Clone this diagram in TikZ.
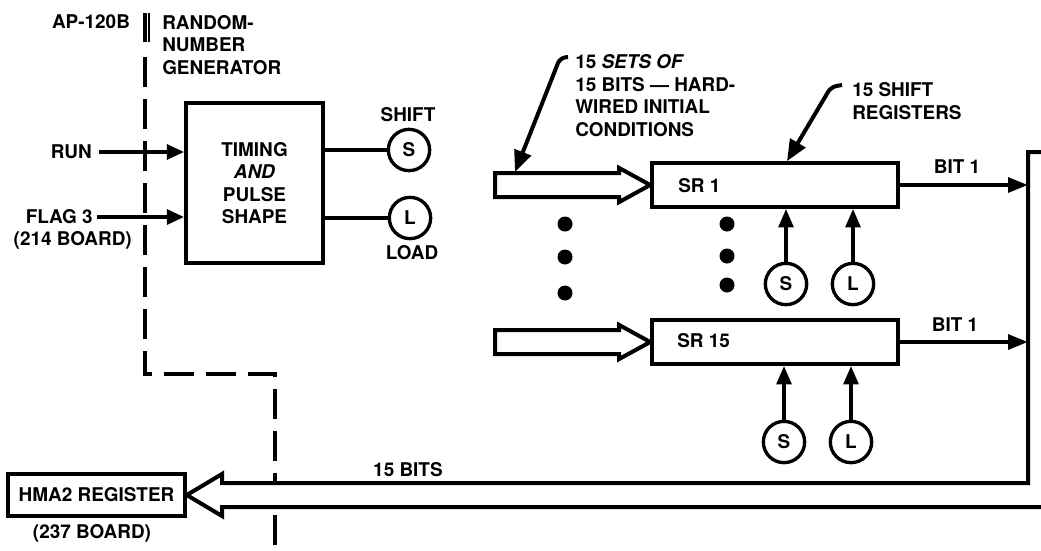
\documentclass[tikz,border=0pt]{standalone}
\usepackage{fontspec}
\setmainfont{TeX Gyre Heros}
\usetikzlibrary{arrows.meta,calc}
\newcommand{\lblfont}{\fontsize{14.2}{16.9}\selectfont\bfseries}
\begin{document}
\begin{tikzpicture}[x=0.75pt,y=-0.75pt,
  txt/.style={font=\lblfont, inner sep=0pt, align=left},
  box/.style={draw, line width=2.7pt, inner sep=0pt, font=\lblfont, align=center},
  circ/.style={circle, draw, line width=2.5pt, minimum size=31pt, inner sep=0pt, font=\lblfont},
  ln/.style={line width=3pt},
  arr/.style={ln, -{Triangle[length=13pt,width=11pt]}},
  uparr/.style={ln, -{Triangle[length=14pt,width=11pt]}},
  bitarr/.style={ln, -{Triangle[length=15pt,width=11pt]}},
  lead/.style={ln, rounded corners=4pt, -{Triangle[length=16pt,width=13pt]}},
  hollow/.style={ln, line join=miter, fill=white},
  dotmark/.style={fill=black}
]
\useasboundingbox[fill=white] (0,0) rectangle (1041,550);

% board boundary (dashed)
\draw[ln] (145,13) -- (145,42);
\draw[line width=0.8pt] (149,13) -- (149,42);
\draw[ln, dash pattern=on 22.5pt off 9pt] (145,57) -- (145,374) -- (275,374) -- (275,550);

% left labels
\node[txt] (ap) at (91,22) {AP-120B};
\node[txt, anchor=west] (rng) at (162,45) {RANDOM-\\NUMBER\\GENERATOR};

% timing block
\node[box, minimum width=102.75pt, minimum height=120pt] (tim) at (254.5,183)
  {TIMING\\\textit{AND}\\PULSE\\SHAPE};
\node[txt, anchor=east] (run) at (92,152) {RUN};
\node[txt, anchor=east] (flag) at (93,217) {FLAG 3};
\node[txt, anchor=east] (b214) at (132,240) {(214 BOARD)};
\draw[arr, shorten <=5pt] (run.east) -- (run.east -| tim.west);
\draw[arr, shorten <=3pt] (flag.east) -- (flag.east -| tim.west);

\node[circ] (s0) at (409,150) {S};
\node[circ] (l0) at (410,218) {L};
\draw[ln] (s0 -| tim.east) -- (s0);
\draw[ln] (l0 -| tim.east) -- (l0);
\node[txt] (shift) at (408,115) {SHIFT};
\node[txt] (load) at (412,253) {LOAD};

% shift registers
\node[box, minimum width=184.5pt, minimum height=33pt] (sr1) at (775,185) {};
\node[txt, anchor=west] (sr1t) at (678,186) {SR 1};
\node[box, minimum width=184.5pt, minimum height=33pt] (sr15) at (775,342) {};
\node[txt, anchor=west] (sr15t) at (677,341) {SR 15};

% hollow input arrows
\draw[hollow] (sr1.west) -- ++(-31,-17) -- ++(0,5) -- ++(-124,0) -- ++(0,24)
  -- ++(124,0) -- ++(0,5) -- cycle;
\draw[hollow] (sr15.west) -- ++(-31,-17) -- ++(0,5) -- ++(-124,0) -- ++(0,24)
  -- ++(124,0) -- ++(0,5) -- cycle;

% dots
\foreach \y in {224,257,293} \fill[dotmark] (565,\y) circle[radius=7.5];
\foreach \y in {224,256,285} \fill[dotmark] (727,\y) circle[radius=7.5];

% S / L controls
\node[circ] (s1) at (786,284) {S};
\node[circ] (l1) at (853,284) {L};
\draw[uparr] (s1) -- (s1 |- sr1.south);
\draw[uparr] (l1) -- (l1 |- sr1.south);
\node[circ] (s15) at (784,442) {S};
\node[circ] (l15) at (851,442) {L};
\draw[uparr] (s15) -- (s15 |- sr15.south);
\draw[uparr] (l15) -- (l15 |- sr15.south);

% HMA2 register and output bus
\node[box, minimum width=132.75pt, minimum height=31.5pt] (hma) at (96.5,495) {HMA2 REGISTER};
\node[txt] (b237) at (92,533) {(237 BOARD)};
\coordinate (bt) at (1028,152);
\coordinate (bb) at (1028,483);
\draw[ln, fill=white, line join=miter] (1041,152) -- (bt) -- (bb) -- (222,483) -- (222,474)
  -- (hma.east) -- (222,516) -- (222,507) -- (1041,507);
\node[txt] (bits) at (408,470) {15 BITS};

% bit outputs
\draw[bitarr] (sr1.east) -- (sr1.east -| bt);
\draw[bitarr] (sr15.east) -- (sr15.east -| bt);
\node[txt] (bit1a) at (957,167) {BIT 1};
\node[txt] (bit1b) at (955,325) {BIT 1};

% annotations
\node[txt, anchor=west] (ann1) at (575,95.5) {15 \textit{SETS OF}\\15 BITS — HARD-\\WIRED INITIAL\\CONDITIONS};
\coordinate (a1s) at (568,57);
\coordinate (a1tip) at (515,172);
\draw[lead] (a1s) -- (560,58) -- (a1tip);
\node[txt, anchor=west] (ann2) at (852,101) {15 SHIFT\\REGISTERS};
\coordinate (a2s) at (842,85);
\draw[lead] (a2s) -- (831,87) -- ($(sr1.north)+(12,0)$);
\end{tikzpicture}
\end{document}
